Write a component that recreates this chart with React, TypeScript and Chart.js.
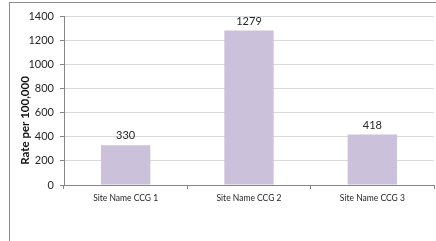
import React, { useEffect, useRef } from "react";
import { Chart, registerables } from "chart.js";

Chart.register(...registerables);

const categories = ["Site Name CCG 1", "Site Name CCG 2", "Site Name CCG 3"];
const rates = [330, 1279, 418];
const yTitle = "Rate per 100,000";

const FONT = "Lato, 'Liberation Sans', sans-serif";

const labelPlugin = {
  id: "barLabels",
  afterDatasetsDraw(chart: any) {
    const ctx = chart.ctx;
    const meta = chart.getDatasetMeta(0);
    ctx.save();
    ctx.font = `11px ${FONT}`;
    ctx.fillStyle = "#262626";
    ctx.textAlign = "center";
    ctx.textBaseline = "bottom";
    meta.data.forEach((bar: any, i: number) => {
      ctx.fillText(String(rates[i]), bar.x, bar.y - 4);
    });
    ctx.restore();
  },
};

const yTitlePlugin = {
  id: "yTitle",
  afterDraw(chart: any) {
    const ctx = chart.ctx;
    ctx.save();
    ctx.translate(25, chart.height / 2);
    ctx.rotate(-Math.PI / 2);
    ctx.font = `bold 11.5px ${FONT}`;
    ctx.fillStyle = "#111";
    ctx.textAlign = "center";
    ctx.textBaseline = "middle";
    ctx.fillText(yTitle, 0, 0);
    ctx.restore();
  },
};

export default function App() {
  const ref = useRef<HTMLCanvasElement>(null);
  useEffect(() => {
    if (!ref.current) return;
    const chart = new Chart(ref.current, {
      type: "bar",
      data: {
        labels: categories,
        datasets: [
          {
            data: rates,
            backgroundColor: "#CCC1DA",
            borderWidth: 0,
            barPercentage: 0.4,
            categoryPercentage: 1,
          },
        ],
      },
      options: {
        animation: false,
        responsive: false,
        layout: { padding: { left: 0, top: 16, right: 2, bottom: 36 } },
        plugins: { legend: { display: false }, tooltip: { enabled: false } },
        scales: {
          x: {
            afterFit: (s: any) => {
              s.height = 20;
            },
            grid: {
              offset: true,
              drawOnChartArea: false,
              drawTicks: true,
              tickLength: 4,
              tickColor: "#868686",
            },
            border: { color: "#868686", width: 1 },
            ticks: {
              font: { family: FONT, size: 8.5 },
              color: "#262626",
              padding: 4,
              maxRotation: 0,
            },
          },
          y: {
            min: 0,
            max: 1400,
            afterFit: (s: any) => {
              s.width = 64;
            },
            grid: {
              color: "#D9D9D9",
              drawTicks: true,
              tickLength: 4,
              tickColor: "#868686",
            },
            border: { color: "#868686", width: 1 },
            ticks: {
              stepSize: 200,
              callback: (v: any) => String(v),
              font: { family: FONT, size: 11 },
              color: "#262626",
              padding: 6,
            },
          },
        },
      },
      plugins: [labelPlugin, yTitlePlugin],
    });
    return () => chart.destroy();
  }, []);
  return (
    <div style={{ position: "fixed", left: 0, top: 0, width: 436, height: 241, background: "#fff", overflow: "hidden" }}>
      <div
        style={{
          position: "absolute",
          left: 9,
          top: 2,
          width: 600,
          height: 400,
          border: "1px solid #8a8a8a",
          boxSizing: "border-box",
        }}
      />
      <canvas ref={ref} width={436} height={241} style={{ position: "absolute", left: 0, top: 0 }} />
    </div>
  );
}
